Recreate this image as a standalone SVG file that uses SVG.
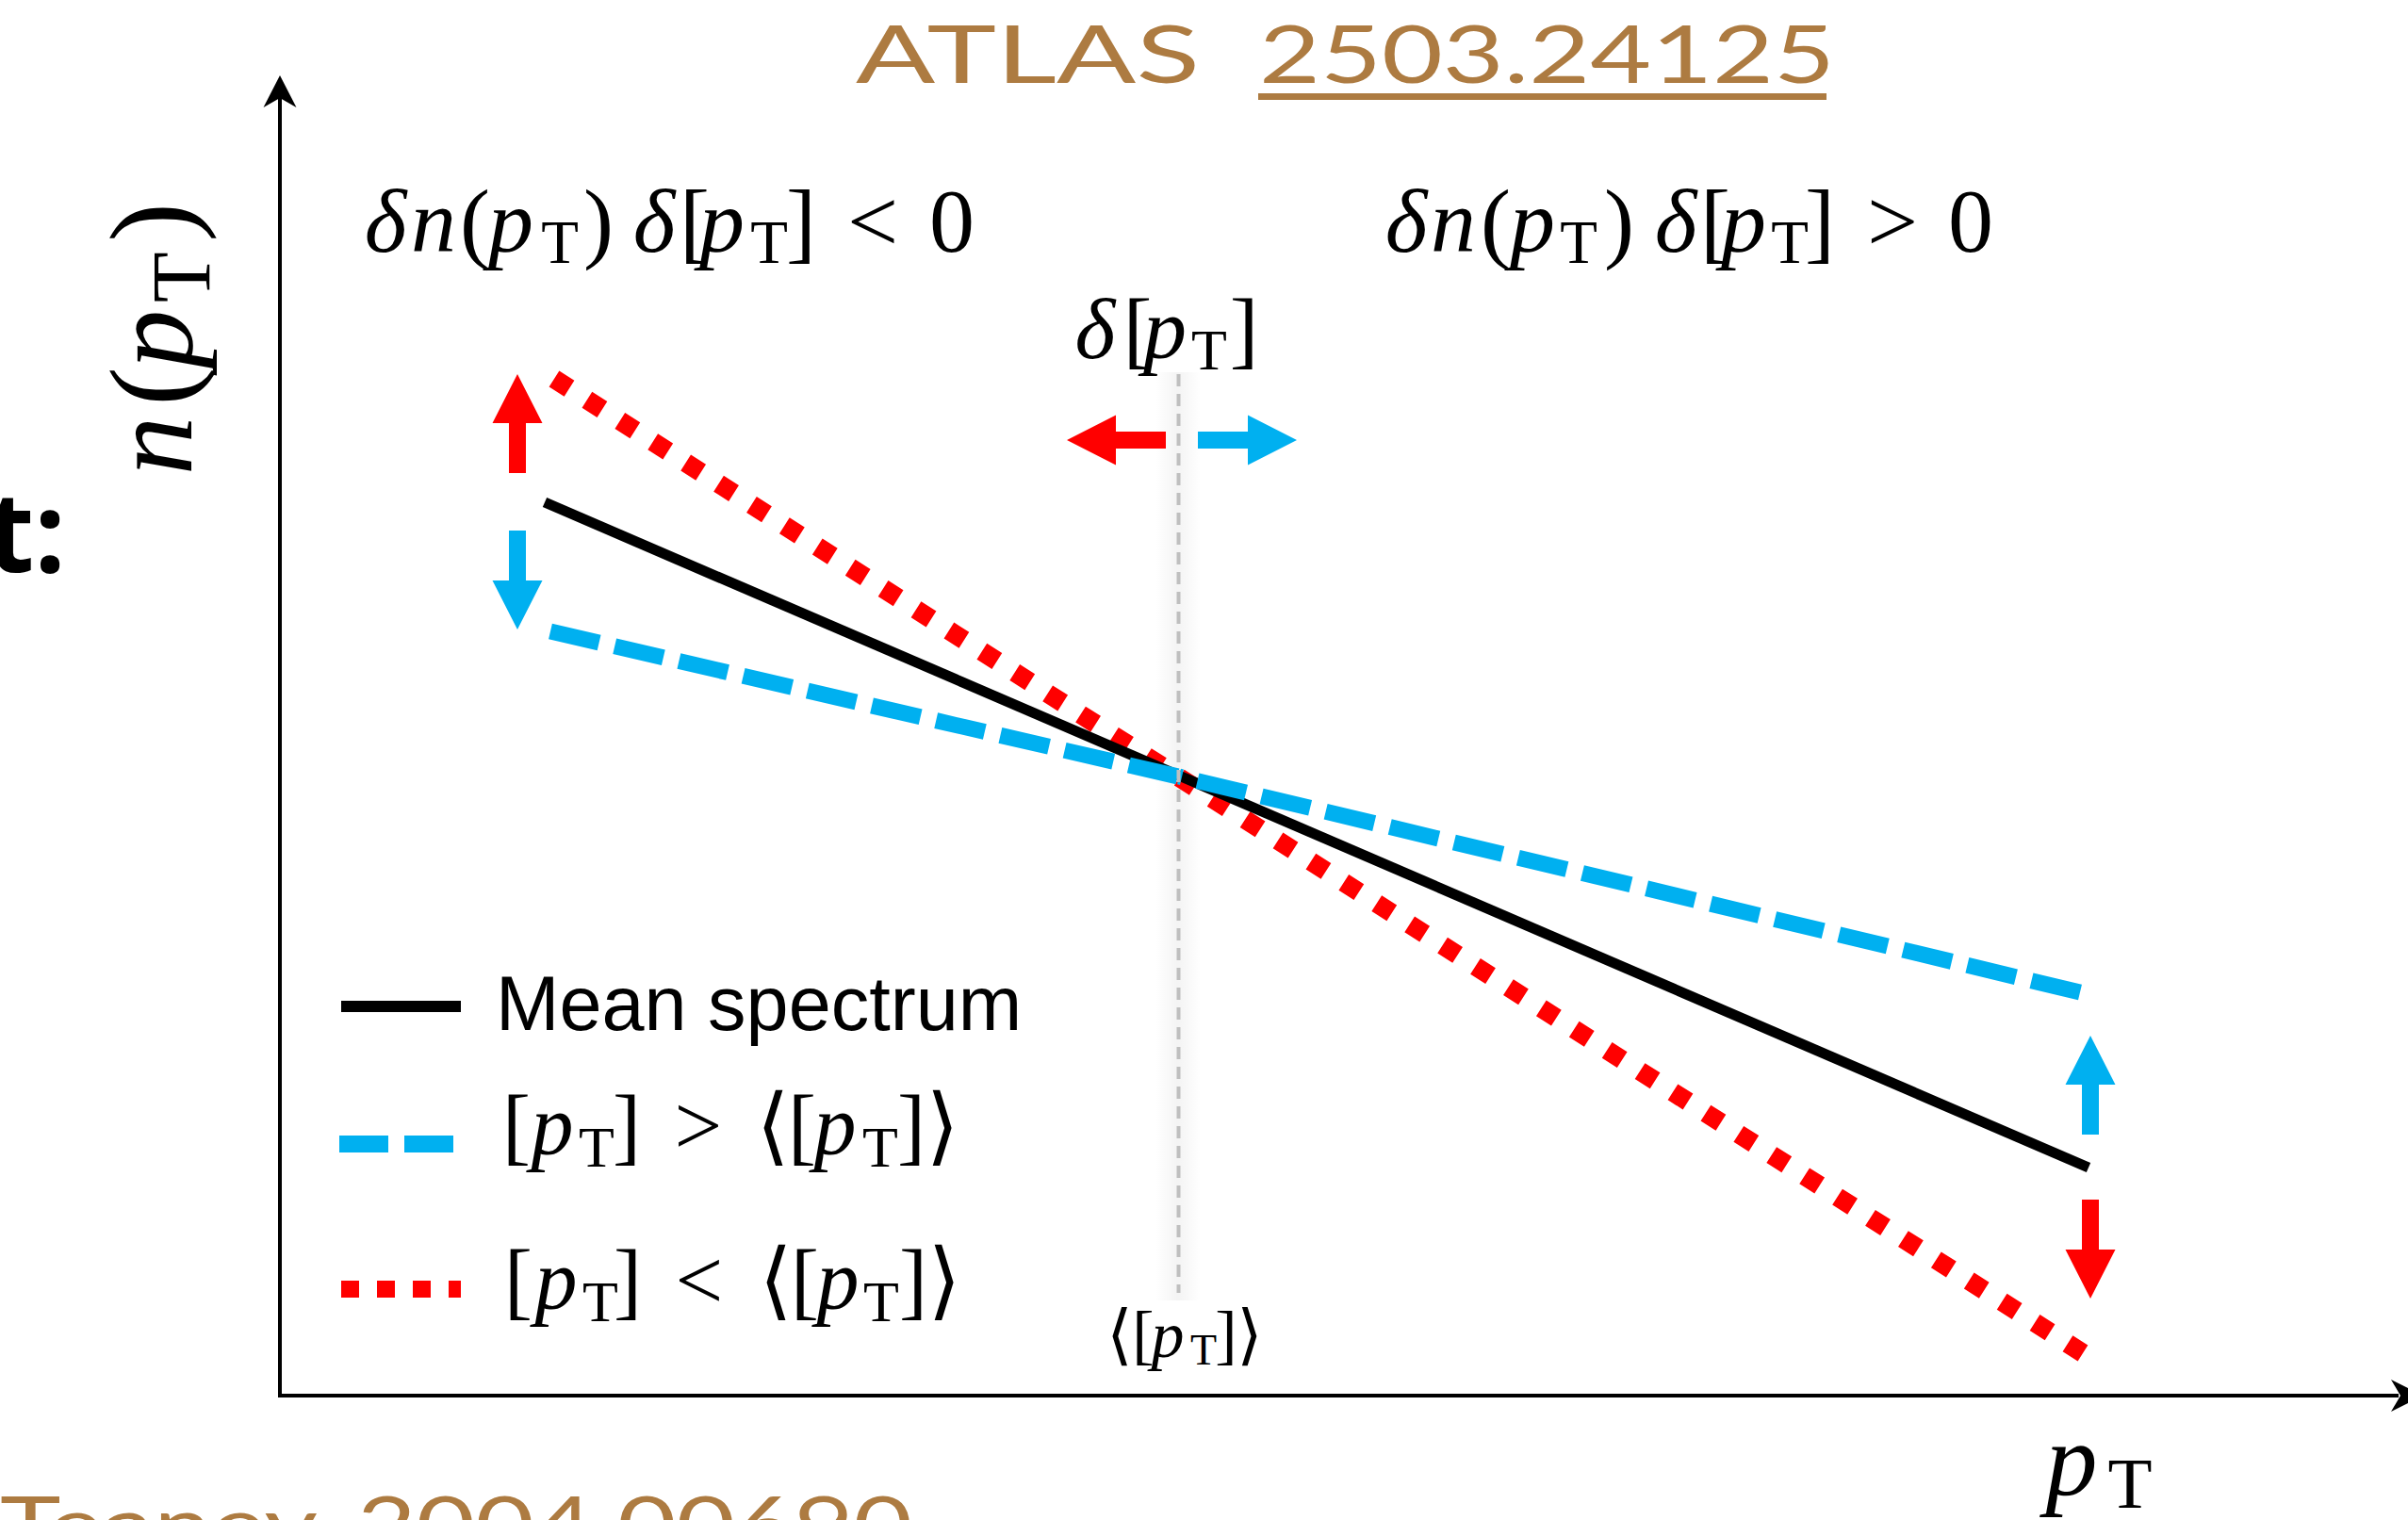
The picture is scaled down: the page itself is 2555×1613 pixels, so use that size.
<svg xmlns="http://www.w3.org/2000/svg" xmlns:xlink="http://www.w3.org/1999/xlink" width="2555" height="1613" viewBox="0 0 2555 1613">
<style>
  .m{font-family:"Liberation Serif","DejaVu Serif",serif;fill:#000;text-anchor:middle}
  .it{font-style:italic}
  .hand{font-family:"Lato","Open Sans","DejaVu Sans",sans-serif;font-weight:400;fill:#AD7B41}
  .axis{stroke:#000;stroke-width:4;fill:none}
  .mean{stroke:#000;stroke-width:11;fill:none}
  .hi{stroke:#00B0F0;stroke-width:17;fill:none;stroke-dasharray:53 17}
  .lo{stroke:#FF0000;stroke-width:20;fill:none;stroke-dasharray:19 22.4}
  .ref{stroke:#BFBFBF;stroke-width:4;stroke-dasharray:13 8;fill:none}
  .red{fill:#FF0000}
  .blue{fill:#00B0F0}
</style>
<defs>
  <path id="blockArrow" d="M0,0 L26.5,52 L9,52 L9,105 L-9,105 L-9,52 L-26.5,52 Z"/>
  <linearGradient id="glow" x1="0" y1="0" x2="1" y2="0">
    <stop offset="0" stop-color="#000" stop-opacity="0"/>
    <stop offset="0.5" stop-color="#000" stop-opacity="0.045"/>
    <stop offset="1" stop-color="#000" stop-opacity="0"/>
  </linearGradient>
</defs>
<rect width="2555" height="1613" fill="#fff"/>

<g id="title">
  <text class="hand" x="908" y="88" font-size="85" textLength="365" lengthAdjust="spacingAndGlyphs">ATLAS</text>
  <text class="hand" x="1336" y="88" font-size="85" textLength="611" lengthAdjust="spacingAndGlyphs">2503.24125</text>
  <rect x="1335" y="99" width="603" height="7" fill="#AD7B41"/>
</g>

<g id="reference-bottom">
  <text class="hand" x="0" y="1649" font-size="85" textLength="337" lengthAdjust="spacingAndGlyphs">Teaney</text>
  <text class="hand" x="379" y="1649" font-size="85" textLength="589" lengthAdjust="spacingAndGlyphs">2004.00690</text>
</g>

<g id="cut-label">
  <text x="70" y="607" font-family="'Open Sans','DejaVu Sans',sans-serif" font-weight="700" font-size="118" text-anchor="end">t:</text>
</g>

<g id="axes">
  <line class="axis" x1="297" y1="1481" x2="297" y2="100"/>
  <polygon points="297,80 314.5,114 297,104 279.5,114" fill="#000"/>
  <line class="axis" x1="295" y1="1481" x2="2545" y2="1481"/>
  <polygon points="2571,1481 2537,1464 2547,1481 2537,1498" fill="#000"/>
</g>

<g id="y-label">
  <text class="m" transform="rotate(-90)" font-size="125" y="203">
    <tspan class="it" x="-473">n</tspan><tspan x="-410">(</tspan><tspan class="it" x="-360">p</tspan><tspan x="-294" y="222" font-size="88">T</tspan><tspan x="-236" y="203">)</tspan>
  </text>
</g>

<g id="x-label">
  <text class="m" font-size="110" y="1587">
    <tspan class="it" x="2198">p</tspan><tspan x="2260" y="1600" font-size="77">T</tspan>
  </text>
</g>

<g id="glow-band">
  <rect x="1226" y="395" width="48" height="985" fill="url(#glow)"/>
</g>

<g id="connectors">
  <g id="spectrum-low">
    <line class="lo" x1="588" y1="402" x2="1250" y2="824"/>
    <line class="lo" x1="2210" y1="1436" x2="1251" y2="825"/>
  </g>
  <g id="spectrum-mean">
    <line class="mean" x1="578" y1="533" x2="1251" y2="823"/>
    <line class="mean" x1="1251" y1="823" x2="2216" y2="1239"/>
  </g>
  <g id="spectrum-high">
    <line class="hi" x1="584" y1="670" x2="1250" y2="824"/>
    <line class="hi" x1="2207" y1="1053" x2="1251" y2="824"/>
  </g>
  <line id="mean-pt-line" class="ref" x1="1250.5" y1="397" x2="1250.5" y2="1372"/>
</g>

<g id="shift-arrows">
  <use href="#blockArrow" class="red" transform="translate(549,397)"/>
  <use href="#blockArrow" class="blue" transform="translate(549,668) rotate(180)"/>
  <use href="#blockArrow" class="blue" transform="translate(2218,1099)"/>
  <use href="#blockArrow" class="red" transform="translate(2218,1378) rotate(180)"/>
  <use href="#blockArrow" class="red" transform="translate(1132,467) rotate(-90)"/>
  <use href="#blockArrow" class="blue" transform="translate(1376,467) rotate(90)"/>
</g>

<g id="region-left-label">
  <text class="m" font-size="96" y="267">
    <tspan class="it" x="409">δ</tspan><tspan class="it" x="460">n</tspan><tspan x="504">(</tspan><tspan class="it" x="542">p</tspan><tspan x="594" y="279" font-size="65">T</tspan><tspan x="635" y="267">)</tspan><tspan class="it" x="694">δ</tspan><tspan x="737">[</tspan><tspan class="it" x="766">p</tspan><tspan x="816" y="279" font-size="65">T</tspan><tspan x="850" y="267">]</tspan><tspan x="926">&lt;</tspan><tspan x="1010">0</tspan>
  </text>
</g>

<g id="region-right-label">
  <text class="m" font-size="96" y="267">
    <tspan class="it" x="1492">δ</tspan><tspan class="it" x="1542">n</tspan><tspan x="1587">(</tspan><tspan class="it" x="1626">p</tspan><tspan x="1675" y="279" font-size="65">T</tspan><tspan x="1718" y="267">)</tspan><tspan class="it" x="1778">δ</tspan><tspan x="1820">[</tspan><tspan class="it" x="1850">p</tspan><tspan x="1899" y="279" font-size="65">T</tspan><tspan x="1931" y="267">]</tspan><tspan x="2008">&gt;</tspan><tspan x="2091">0</tspan>
  </text>
</g>

<g id="delta-label">
  <text class="m" font-size="92" y="380">
    <tspan class="it" x="1162">δ</tspan><tspan x="1207">[</tspan><tspan class="it" x="1236">p</tspan><tspan x="1283" y="392" font-size="62">T</tspan><tspan x="1320" y="380">]</tspan>
  </text>
</g>

<g id="mean-pt-label">
  <text class="m" font-size="70" y="1440">
    <tspan x="1188">⟨</tspan><tspan x="1213">[</tspan><tspan class="it" x="1239">p</tspan><tspan x="1277" y="1448" font-size="46">T</tspan><tspan x="1301" y="1440">]</tspan><tspan x="1326">⟩</tspan>
  </text>
</g>

<g id="legend">
  <g id="legend-mean">
    <line x1="362" y1="1068" x2="489" y2="1068" stroke="#000" stroke-width="12"/>
    <text x="526" y="1093" font-family="'Liberation Sans',Arial,sans-serif" font-size="81">Mean spectrum</text>
  </g>
  <g id="legend-high">
    <line x1="360" y1="1214" x2="482" y2="1214" stroke="#00B0F0" stroke-width="18" stroke-dasharray="52 17"/>
    <text class="m" font-size="90" y="1225">
      <tspan x="548">[</tspan><tspan class="it" x="586">p</tspan><tspan x="633" y="1238" font-size="62">T</tspan><tspan x="665" y="1225">]</tspan><tspan x="741">&gt;</tspan><tspan x="820">⟨</tspan><tspan x="851">[</tspan><tspan class="it" x="886">p</tspan><tspan x="934" y="1238" font-size="62">T</tspan><tspan x="967" y="1225">]</tspan><tspan x="1000">⟩</tspan>
    </text>
  </g>
  <g id="legend-low">
    <line x1="362" y1="1368" x2="489" y2="1368" stroke="#FF0000" stroke-width="18" stroke-dasharray="19 19"/>
    <text class="m" font-size="90" y="1389">
      <tspan x="550">[</tspan><tspan class="it" x="590">p</tspan><tspan x="637" y="1402" font-size="62">T</tspan><tspan x="666" y="1389">]</tspan><tspan x="742">&lt;</tspan><tspan x="823">⟨</tspan><tspan x="854">[</tspan><tspan class="it" x="889">p</tspan><tspan x="935" y="1402" font-size="62">T</tspan><tspan x="969" y="1389">]</tspan><tspan x="1002">⟩</tspan>
    </text>
  </g>
</g>
</svg>
